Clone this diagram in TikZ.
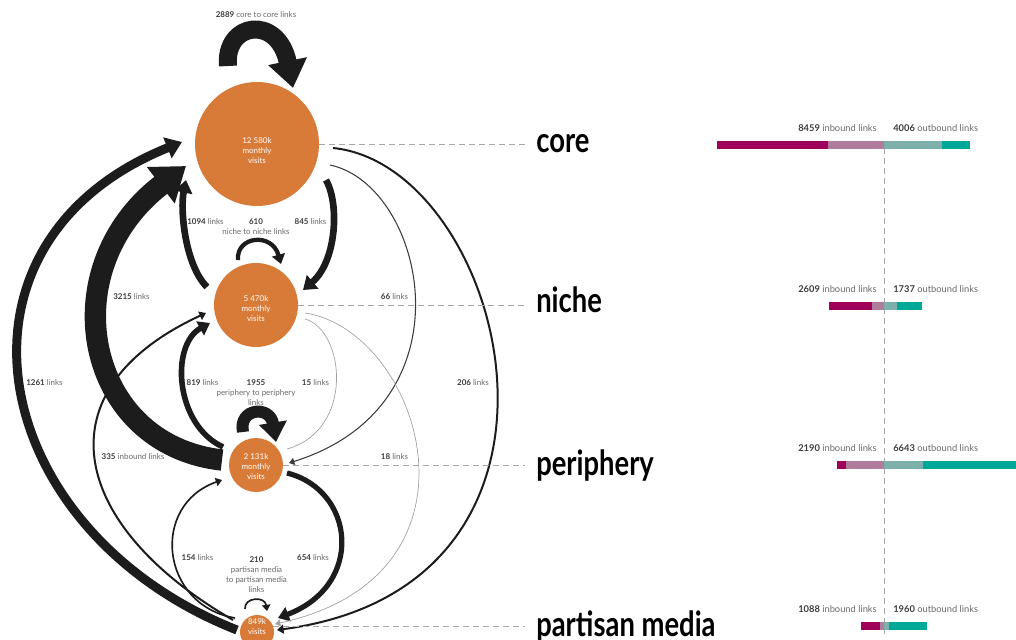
\documentclass[tikz,border=0pt]{standalone}
\usepackage{fontspec}
\setmainfont{Lato}
\newfontfamily\tierfont{Lato}[FakeStretch=0.79]
\usetikzlibrary{arrows.meta,calc,positioning}
\definecolor{hubfill}{RGB}{217,123,56}
\definecolor{linkink}{RGB}{28,28,28}
\definecolor{labelgray}{RGB}{105,105,105}
\definecolor{numgray}{RGB}{60,60,60}
\definecolor{inhigh}{RGB}{158,0,90}
\definecolor{inlow}{RGB}{176,124,155}
\definecolor{outlow}{RGB}{125,176,170}
\definecolor{outhigh}{RGB}{0,168,152}
\newcommand\cnt[1]{\textbf{\textcolor{numgray}{#1}}}

\begin{document}
\begin{tikzpicture}[x=0.75pt, y=-0.75pt]
    \tikzset{
        hub/.style={circle, fill=hubfill, inner sep=0pt},
        hubtext/.style={text=white, align=center, inner sep=0pt, font=\fontsize{6}{7.5}\selectfont},
        link/.style={draw=linkink, -{Triangle[length=3pt 1.3, width=4pt 1.8]}},
        faintlink/.style={draw=gray!75, line width=0.5pt},
        count/.style={font=\fontsize{6}{7.5}\selectfont, text=labelgray, align=center, inner sep=0pt},
        tier/.style={font=\tierfont\bfseries\fontsize{26}{28}\selectfont, anchor=base west, inner sep=0pt},
        guide/.style={draw=gray!70, line width=0.6pt, dash pattern=on 4.5pt off 3pt},
        barlabel/.style={font=\fontsize{7}{8}\selectfont, text=labelgray, inner sep=0pt}
    }
    \useasboundingbox (0,0) rectangle (1016,639);

    % tiers
    \node[hub, minimum size=93pt, label={[hubtext, yshift=-5pt]center:{12 580k\\monthly\\visits}}] (core) at (257,144) {};
    \node[hub, minimum size=63pt, label={[hubtext, yshift=-3pt]center:{5 470k\\monthly\\visits}}] (niche) at (256,305) {};
    \node[hub, minimum size=40.5pt, label={[hubtext, yshift=-1pt]center:{2 131k\\monthly\\visits}}] (periphery) at (256,465) {};
    \node[hub, minimum size=25.5pt, label={[hubtext, yshift=4pt]center:{849k\\visits}}] (partisan) at (257,632) {};

    % self links
    \draw[link, line width=13.5pt] ($(core)+(-29,-78)$) .. controls (224,22) and (278,14) .. ($(core)+(36,-56)$);
    \draw[link, line width=3.2pt] ($(niche)+(-18,-45)$) .. controls (236,236) and (272,232) .. ($(niche)+(25,-41)$);
    \draw[link, line width=9pt] ($(periphery)+(-13,-33)$) .. controls (238,408) and (270,405) .. ($(periphery)+(20,-23)$);
    \draw[link, line width=1.25pt] ($(partisan)+(-12,-23)$) .. controls (244,597) and (265,596) .. ($(partisan)+(10,-21)$);

    % links between tiers
    \draw[link, line width=5pt] ($(niche)+(-49,-18)$) .. controls (185,265) and (180,210) .. ($(core)+(-71,36)$);
    \draw[link, line width=5pt] ($(core)+(69,36)$) .. controls (340,205) and (336,262) .. ($(niche)+(47,-15)$);
    \draw[link, line width=4.2pt] ($(periphery)+(-33,-18)$) .. controls (175,425) and (170,345) .. ($(niche)+(-46,18)$);
    \draw[faintlink] ($(niche)+(49,14)$) .. controls (345,330) and (355,430) .. ($(periphery)+(31,-16)$);
    \draw[link, line width=3.9pt] ($(periphery)+(31,8)$) .. controls (355,490) and (365,585) .. ($(partisan)+(21,-14)$);
    \draw[link, line width=1.25pt] ($(partisan)+(-22,-14)$) .. controls (160,605) and (150,505) .. ($(periphery)+(-34,15)$);
    \draw[link, line width=0.8pt, draw=numgray] ($(core)+(73,21)$) .. controls (425,185) and (475,405) .. ($(periphery)+(33,-2)$);
    \draw[faintlink, -{Triangle[length=4pt, width=5pt]}] ($(niche)+(49,8)$) .. controls (420,330) and (500,575) .. ($(partisan)+(18,-8)$);
    \draw[link, line width=1.5pt] ($(core)+(76,4)$) .. controls (505,165) and (615,585) .. ($(partisan)+(20,-2)$);
    \draw[link, line width=6.75pt] ($(partisan)+(-20,-2)$) .. controls (-14,531) and (-69,243) .. ($(core)+(-75,-2)$);
    \draw[link, line width=16pt] ($(periphery)+(-34,-5)$) .. controls (85,445) and (50,270) .. ($(core)+(-71,22)$);
    \draw[link, line width=1.5pt] ($(partisan)+(-24,-12)$) .. controls (69,525) and (39,390) .. ($(niche)+(-50,8)$);

    % link counts
    \node[count] (lcore) at (256,15) {\cnt{2889} core to core links};
    \node[count] (lnc) at (205.5,222) {\cnt{1094} links};
    \node[count] (lniche) at (256,227) {\cnt{610}\\niche to niche links};
    \node[count] (lcn) at (310.5,222) {\cnt{845} links};
    \node[count] (lpc) at (131.5,297) {\cnt{3215} links};
    \node[count] (lcp) at (394.5,297) {\cnt{66} links};
    \node[count] (lmc) at (44.5,383) {\cnt{1261} links};
    \node[count] (lpn) at (202.5,383) {\cnt{819} links};
    \node[count] (lperiphery) at (256,393) {\cnt{1955}\\periphery to periphery\\links};
    \node[count] (lnp) at (315.5,383) {\cnt{15} links};
    \node[count] (lcm) at (473,383) {\cnt{206} links};
    \node[count] (lmn) at (133,457) {\cnt{335} inbound links};
    \node[count] (lnm) at (394.5,457) {\cnt{18} links};
    \node[count] (lmp) at (197.5,558) {\cnt{154} links};
    \node[count] (lpartisan) at (256.5,575) {\cnt{210}\\partisan media\\to partisan media\\links};
    \node[count] (lpm) at (313,558) {\cnt{654} links};

    % tier names
    \node[tier] (corename) at (536,152) {core};
    \node[tier] (nichename) at (536,312) {niche};
    \node[tier] (peripheryname) at (536,475) {periphery};
    \node[tier] (partisanname) at (536,636) {partisan media};

    \draw[guide, shorten >=8pt] (core.east) -- (core.east -| corename.west);
    \draw[guide, shorten >=8pt] (niche.east) -- (niche.east -| nichename.west);
    \draw[guide, shorten >=8pt] (periphery.east) -- (periphery.east -| peripheryname.west);
    \draw[guide, shorten >=8pt] (partisan.20) -- (partisan.20 -| partisanname.west);

    % inbound / outbound bars
    \draw[guide] (884,148) -- (884,634);
    \foreach \row/\ytop/\xa/\xb/\xc/\xd/\inb/\outb in {
        core/141/717/828/942/970/8459/4006,
        niche/302/829/872/897/922/2609/1737,
        periphery/461/837/846/923/1016/2190/6643,
        partisan/622/861/880/889/927/1088/1960} {
        \fill[inhigh] (\xa,\ytop) rectangle (\xb,\ytop+7.5);
        \fill[inlow] (\xb,\ytop) rectangle (884,\ytop+7.5);
        \fill[outlow] (884,\ytop) rectangle (\xc,\ytop+7.5);
        \fill[outhigh] (\xc,\ytop) rectangle (\xd,\ytop+7.5);
        \node[barlabel, anchor=base east] (\row in) at (877,\ytop-9.5) {\cnt{\inb} inbound links};
        \node[barlabel, anchor=base west] (\row out) at (893,\ytop-9.5) {\cnt{\outb} outbound links};
    }
\end{tikzpicture}
\end{document}
